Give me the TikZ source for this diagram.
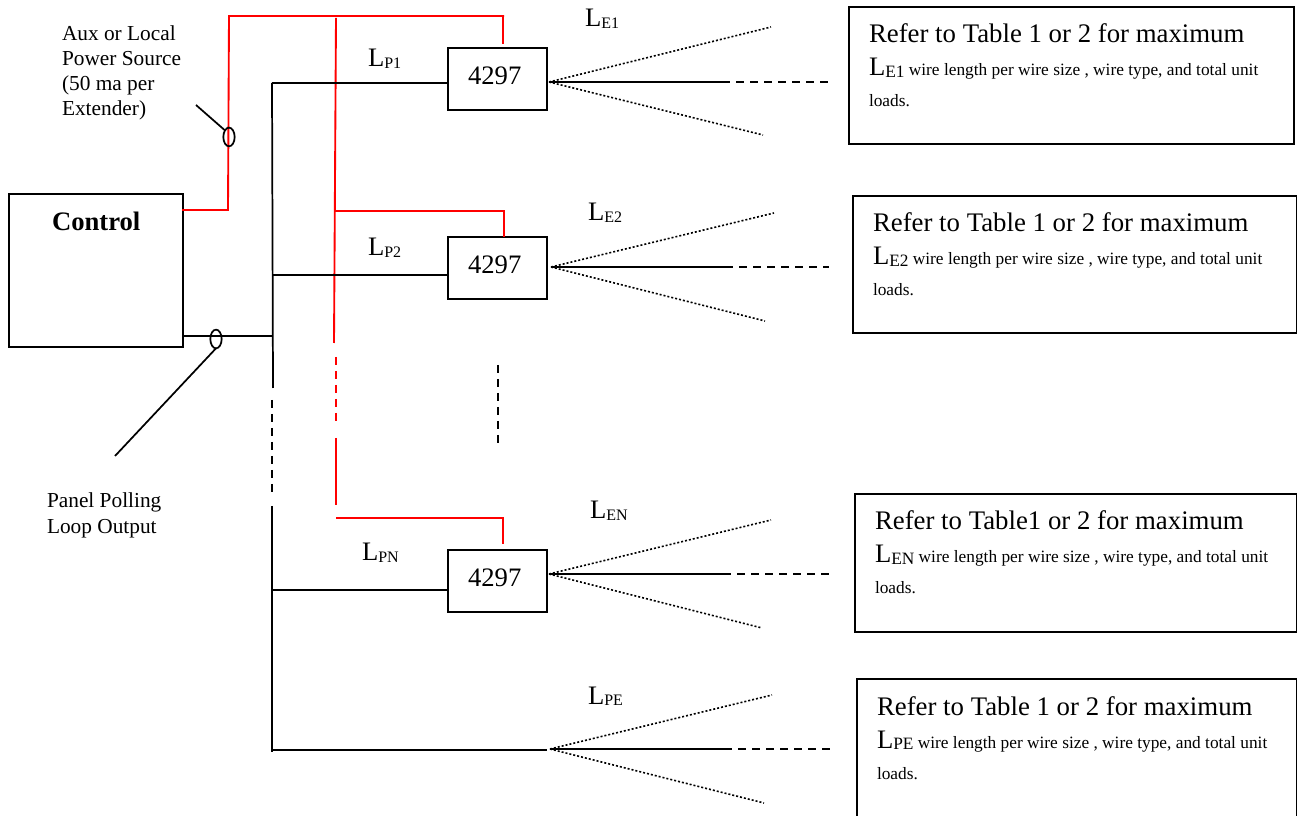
\documentclass[tikz,border=0pt]{standalone}
\usepackage{fontspec}
\setmainfont{Liberation Serif}
\usetikzlibrary{shapes.geometric}
\newcommand{\fsz}[1]{\fontsize{#1}{#1}\selectfont}
\newcommand{\ltag}[1]{\fsz{20}L\raisebox{-1pt}{\fsz{12}#1}}
\newcommand{\ltagb}[1]{\fsz{20}L\raisebox{-1pt}{\fsz{13}#1}}
\tikzset{
 x=0.75pt,y=-0.75pt,
 wire/.style={line width=1.3pt,black},
 red wire/.style={line width=1.4pt,red},
 dash wire/.style={wire,dash pattern=on 6pt off 4.5pt},
 red dash/.style={red wire,dash pattern=on 6pt off 4.5pt},
 dot wire/.style={line width=1.2pt,dash pattern=on 1.5pt off 1.5pt},
 boxst/.style={draw,line width=1.3pt,inner sep=0pt,outer sep=0pt},
 txt/.style={anchor=base west,inner sep=0pt,outer sep=0pt,font=\fsz{16}},
 big/.style={anchor=base west,inner sep=0pt,outer sep=0pt,font=\fsz{20}},
 loop/.style={draw,line width=1.3pt,ellipse,inner sep=0pt,outer sep=0pt,minimum width=8.5pt,minimum height=14pt},
}
\newcommand{\bx}[6][]{\node[boxst,minimum width={(#5-#3)*0.75pt},minimum height={(#6-#4)*0.75pt},#1] (#2) at ({(#3+#5)/2},{(#4+#6)/2}) {};}
\newcommand{\note}[6]{%
 \bx{#1}{#2}{#3}{#4}{#5}
 \node[big,font=\fsz{20.1}] (#1a) at (#2+20,#3+36) {#6};
}
\newcommand{\noteb}[4]{%
 \node[big] (#1b) at (#2+20,#3+69) {\ltagb{#4}\fsz{13} wire length per wire size , wire type, and total unit};
 \node[txt,font=\fsz{13}] (#1c) at (#2+20,#3+100) {loads.};
}
\newcommand{\fan}[9]{%
 \coordinate (#1o) at (#2,#3);
 \coordinate (#1u) at (#4,#5);
 \coordinate (#1d) at (#6,#7);
 \coordinate (#1s) at (#8,#3);
 \coordinate (#1e) at (#9,#3);
 \draw[dot wire] (#1o) -- (#1u);
 \draw[dot wire] (#1o) -- (#1d);
 \draw[wire] (#1o) -- ([xshift=1.5pt]#1s);
 \draw[dash wire] (#1s) -- (#1e);
}
\begin{document}
\begin{tikzpicture}
\useasboundingbox (0,0) rectangle (1297,816);
\clip (0,0) rectangle (1297,816);
% boxes
\bx{ctrl}{9}{194}{183}{347}
\bx{ba}{448}{48}{547}{110}
\bx{bb}{448}{237}{547}{299}
\bx{bn}{448}{550}{547}{612}
\node[big,font=\fsz{20}\bfseries] (ctrlt) at (52,231) {Control};
\node[big] (bat) at (468,85) {4297};
\node[big] (bbt) at (468,274) {4297};
\node[big] (bnt) at (468,587) {4297};
% notes
\note{na}{849}{7}{1294}{144}{Refer to Table 1 or 2 for maximum}
\noteb{na}{849}{7}{E1}
\note{nb}{853}{196}{1296.5}{333}{Refer to Table 1 or 2 for maximum}
\noteb{nb}{853}{196}{E2}
\note{nn}{855}{494}{1296.5}{632}{Refer to Table1 or 2 for maximum}
\noteb{nn}{855}{494}{EN}
\note{ne}{857}{679}{1296.5}{840}{Refer to Table 1 or 2 for maximum}
\noteb{ne}{857}{679}{PE}
% labels
\node[big] (lp1) at (368,67) {\ltag{P1}};
\node[big] (lp2) at (368,256) {\ltag{P2}};
\node[big] (lpn) at (362,561) {\ltag{PN}};
\node[big] (le1) at (585,27) {\ltag{E1}};
\node[big] (le2) at (588,221) {\ltag{E2}};
\node[big] (len) at (590,519) {\ltag{EN}};
\node[big] (lpe) at (588,704) {\ltag{PE}};
\node[txt] (aux1) at (62,40.5) {Aux or Local};
\node[txt] (aux2) at (62,65.5) {Power Source};
\node[txt] (aux3) at (62,90.5) {(50 ma per};
\node[txt] (aux4) at (62,115.5) {Extender)};
\node[txt] (pan1) at (47,507.5) {Panel Polling};
\node[txt] (pan2) at (47,533.5) {Loop Output};
% red wiring
\coordinate (r1) at (182,210);
\coordinate (r2) at (228,210);
\coordinate (r3) at (229,16);
\coordinate (r4) at (504,16);
\coordinate (r5) at (503,16);
\coordinate (r6) at (503,44);
\draw[red wire] (r1) -- (r2) -- (r3) -- (r4);
\draw[red wire] (r5) -- (r6);
\coordinate (v1) at (336,18);
\coordinate (v2) at (334,343);
\coordinate (v3) at (336,357);
\coordinate (v4) at (336,421);
\coordinate (v5) at (336,438);
\coordinate (v6) at (336,505);
\draw[red wire] (v1) -- (v2);
\draw[red dash] (v3) -- (v4);
\draw[red wire] (v5) -- (v6);
\coordinate (s1) at (335,211);
\coordinate (s2) at (505,211);
\coordinate (s3) at (504,211);
\draw[red wire] (s1) -- (s2);
\draw[red wire] (s3) -- (bb.north -| s3);
\coordinate (t1) at (336,518);
\coordinate (t2) at (504,518);
\coordinate (t3) at (503,518);
\coordinate (t4) at (503,544);
\draw[red wire] (t1) -- (t2);
\draw[red wire] (t3) -- (t4);
% black bus
\coordinate (k1) at (272,83);
\coordinate (k2) at (273,388);
\coordinate (k3) at (272,400);
\coordinate (k4) at (272,492);
\coordinate (k5) at (272,506);
\coordinate (k6) at (272,752);
\coordinate (k7) at (273,275);
\coordinate (k8) at (272,590);
\coordinate (k9) at (272,750);
\coordinate (k10) at (272,336);
\coordinate (k11) at (547,750);
\draw[wire] (k1) -- (k2);
\draw[dash wire] (k3) -- (k4);
\draw[wire] (k5) -- (k6);
\draw[wire] (k1) -- (ba.west |- k1);
\draw[wire] (k7) -- (bb.west |- k7);
\draw[wire] (k8) -- (bn.west |- k8);
\draw[wire] (k9) -- (k11);
\draw[wire] (ctrl.east |- k10) -- (k10);
% short dashed
\coordinate (d1) at (498,365);
\coordinate (d2) at (498,444);
\draw[dash wire] (d1) -- (d2);
% loops and leaders
\node[loop] (la) at (229,137) {};
\node[loop] (lb) at (216,339) {};
\coordinate (la0) at (196,105);
\coordinate (lb0) at (115,456);
\draw[wire] (la0) -- (la.north west);
\draw[wire] (lb0) -- (lb.south);
% fans
\fan{fa}{549}{82}{771}{27}{763}{135}{722}{830}
\fan{fb}{551}{267}{774}{213}{765}{321}{725}{829}
\fan{fn}{549}{574}{771}{520}{762}{628}{723}{830}
\fan{fe}{550}{749}{772}{695}{764}{803}{724}{830}
\end{tikzpicture}
\end{document}
